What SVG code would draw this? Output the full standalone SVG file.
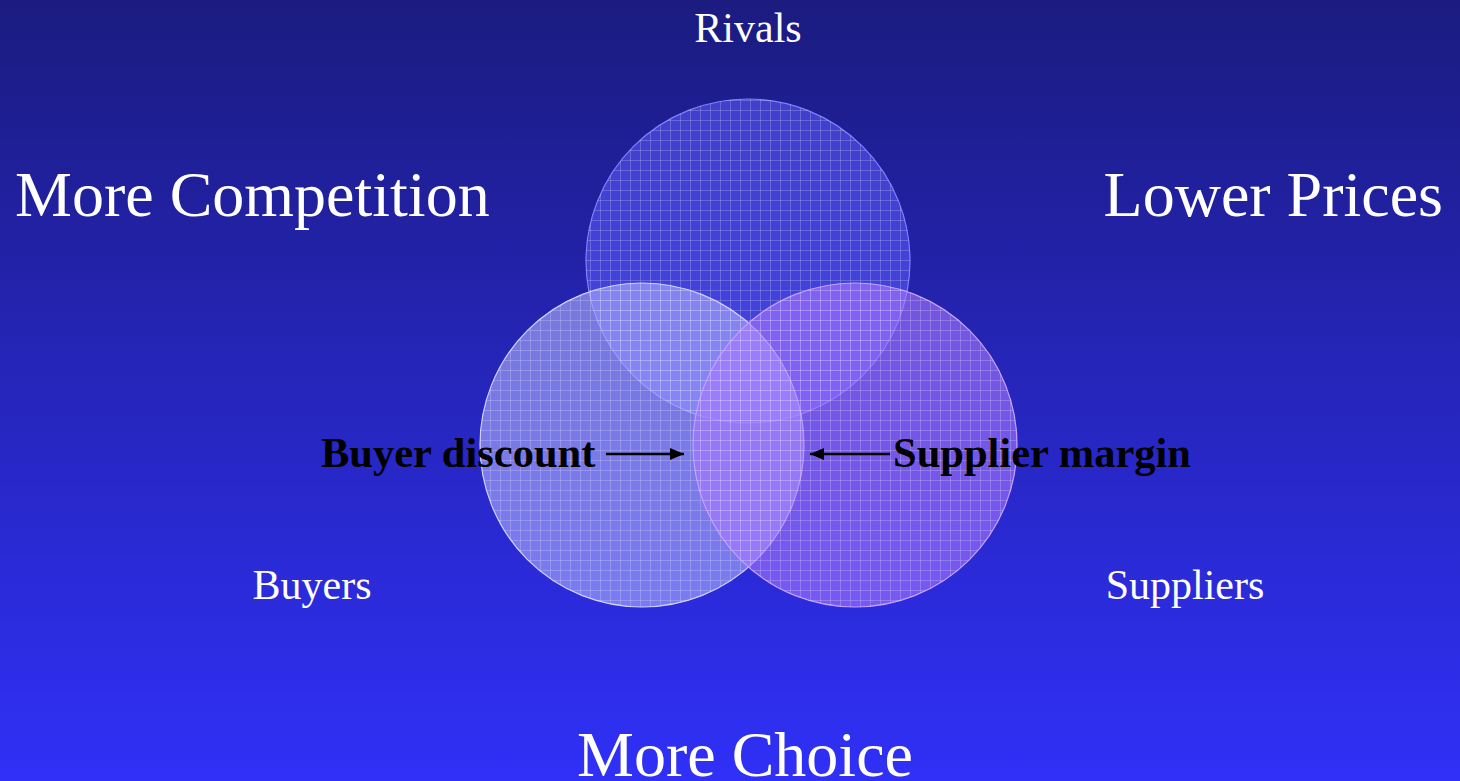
<svg xmlns="http://www.w3.org/2000/svg" width="1460" height="781" viewBox="0 0 1460 781">
<defs>
<linearGradient id="bg" x1="0" y1="0" x2="0" y2="1">
<stop offset="0" stop-color="#1b1b80"/>
<stop offset="1" stop-color="#3030f8"/>
</linearGradient>
<pattern id="grid" width="10" height="10" patternUnits="userSpaceOnUse">
<path d="M0 0.5H10M0.5 0V10" stroke="#ffffff" stroke-opacity="0.2" stroke-width="1" fill="none"/>
</pattern>
<marker id="ah" viewBox="0 0 14 12" refX="14" refY="6" markerWidth="14" markerHeight="12" markerUnits="userSpaceOnUse" orient="auto">
<path d="M0 0L14 6L0 12Z" fill="#000"/>
</marker>
<style>
.lbl{font-family:"Liberation Serif","Times New Roman",serif;fill:#fff}
.big{font-size:64px}
.mid{font-size:42px}
.bold{font-family:"Liberation Serif","Times New Roman",serif;font-size:42.5px;font-weight:bold;fill:#000}
.circ{stroke-width:1.2}
</style>
</defs>
<rect width="1460" height="781" fill="url(#bg)"/>
<g id="rivals-circle">
<circle cx="748" cy="261" r="162" fill="#5c5cff" fill-opacity="0.55" stroke="#8080ff" class="circ"/>
<circle cx="748" cy="261" r="162" fill="url(#grid)"/>
</g>
<g id="buyers-circle">
<circle cx="642" cy="445" r="162" fill="#b0b0ff" fill-opacity="0.6" stroke="#d0d0ff" class="circ"/>
<circle cx="642" cy="445" r="162" fill="url(#grid)"/>
</g>
<g id="suppliers-circle">
<circle cx="855" cy="445" r="162" fill="#a878ff" fill-opacity="0.6" stroke="#c8a0ff" class="circ"/>
<circle cx="855" cy="445" r="162" fill="url(#grid)"/>
</g>
<g id="rivals"><text class="lbl mid" x="748" y="42" text-anchor="middle">Rivals</text></g>
<g id="more-competition"><text class="lbl big" x="15" y="216">More Competition</text></g>
<g id="lower-prices"><text class="lbl big" x="1443" y="216" text-anchor="end">Lower Prices</text></g>
<g id="more-choice"><text class="lbl big" x="745" y="776" text-anchor="middle">More Choice</text></g>
<g id="buyers"><text class="lbl mid" x="312" y="599" text-anchor="middle">Buyers</text></g>
<g id="suppliers"><text class="lbl mid" x="1185" y="599" text-anchor="middle">Suppliers</text></g>
<g id="buyer-discount"><text class="bold" x="321" y="467">Buyer discount</text></g>
<g id="supplier-margin"><text class="bold" x="893" y="467">Supplier margin</text></g>
<g id="connectors">
<line x1="606" y1="454" x2="684" y2="454" stroke="#000" stroke-width="2.5" marker-end="url(#ah)"/>
<line x1="890" y1="454" x2="810" y2="454" stroke="#000" stroke-width="2.5" marker-end="url(#ah)"/>
</g>
</svg>
